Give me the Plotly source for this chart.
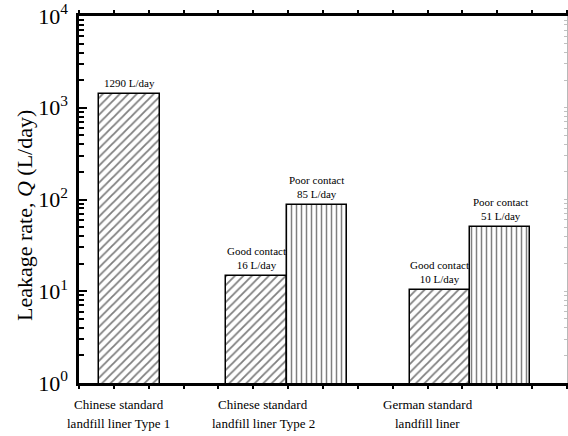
import math
import plotly.graph_objects as go

# ---- data ----
categories = ["Chinese standard<br>landfill liner Type 1",
              "Chinese standard<br>landfill liner Type 2",
              "German standard<br>landfill liner"]
# diagonal-hatched bars (Type 1 / good contact)
diag_values = [1420, 14.7, 10.2]
diag_labels = ["1290 L/day", "Good contact<br>16 L/day", "Good contact<br>10 L/day"]
# vertical-hatched bars (poor contact); Type 1 has none
vert_values = [None, 87, 50]
vert_labels = [None, "Poor contact<br>85 L/day", "Poor contact<br>51 L/day"]
ytick_vals = [1, 10, 100, 1000, 10000]
ytick_text = ["10<sup>0</sup>", "10<sup>1</sup>", "10<sup>2</sup>", "10<sup>3</sup>", "10<sup>4</sup>"]

# ---- layout geometry (axis units / pixels) ----
W, H = 568, 436
L, R, T, B = 79, 1, 16, 53
group_x = [1.449, 5.958, 11.216]
bar_w = 1.73
label_x = [1.147, 5.28, 10.01]
FONT = "Liberation Serif, Times New Roman, serif"

diag_x = [group_x[0]] + [g - bar_w / 2 for g in group_x[1:]]
vert_x = [None] + [g + bar_w / 2 for g in group_x[1:]]
minor_vals = [m * 10 ** d for d in range(4) for m in range(2, 10)]

fig = go.Figure()
fig.add_trace(go.Bar(
    x=diag_x, y=diag_values, width=bar_w,
    marker=dict(color="white",
                line=dict(color="black", width=1.5),
                pattern=dict(shape="/", size=6, solidity=0.3,
                             fgcolor="black", bgcolor="white")),
    showlegend=False, hoverinfo="skip"))
vx = [x for x, v in zip(vert_x, vert_values) if v is not None]
vv = [v for v in vert_values if v is not None]
fig.add_trace(go.Bar(
    x=vx, y=vv, width=bar_w,
    marker=dict(color="white",
                line=dict(color="black", width=1.5),
                pattern=dict(shape="|", size=5, solidity=0.3,
                             fgcolor="black", bgcolor="white")),
    showlegend=False, hoverinfo="skip"))
fig.add_trace(go.Scatter(x=[None], y=[None], yaxis="y2", showlegend=False, hoverinfo="skip"))
fig.add_trace(go.Scatter(x=[None], y=[None], yaxis="y3", showlegend=False, hoverinfo="skip"))

# bar value labels
for xs, vals, labs in [(diag_x, diag_values, diag_labels), (vert_x, vert_values, vert_labels)]:
    for x, v, t in zip(xs, vals, labs):
        if v is None:
            continue
        fig.add_annotation(x=x, y=math.log10(v), text=t, showarrow=False,
                           yanchor="bottom", yshift=3,
                           font=dict(family=FONT, size=11, color="black"))

# category labels (one annotation per line)
ph = H - T - B
for x, cat in zip(label_x, categories):
    for i, line in enumerate(cat.split("<br>")):
        ypix = 404 + 19 * i
        fig.add_annotation(x=x, y=(H - B - ypix) / ph, yref="paper", text=line,
                           showarrow=False, yanchor="middle",
                           font=dict(family=FONT, size=13, color="black"))

# y title
fig.add_annotation(x=(24 - L) / (W - L - R), xref="paper", y=(H - B - 216) / ph, yref="paper",
                   text="Leakage rate, <i>Q</i> (L/day)", textangle=-90, showarrow=False,
                   xanchor="center", yanchor="middle",
                   font=dict(family=FONT, size=22, color="black"))

fig.update_layout(
    width=W, height=H,
    margin=dict(l=L, r=R, t=T, b=B, pad=0),
    paper_bgcolor="white", plot_bgcolor="white",
    bargap=0, barmode="overlay",
    font=dict(family=FONT, color="black"),
    xaxis=dict(range=[0, 14], showgrid=False, zeroline=False,
               showline=True, linecolor="black", linewidth=2.5, mirror="ticks",
               ticks="outside", ticklen=3, tickwidth=1.5, tickcolor="black",
               dtick=1, tick0=0, showticklabels=False),
    yaxis=dict(type="log", range=[0, 4], showgrid=False, zeroline=False,
               showline=True, linecolor="black", linewidth=2.5,
               ticks="inside", ticklen=8, tickwidth=2, tickcolor="black",
               tickvals=ytick_vals, ticktext=ytick_text,
               tickfont=dict(family=FONT, size=22, color="black"),
               ticklabelstandoff=4),
    yaxis3=dict(type="log", range=[0, 4], overlaying="y", side="left", anchor="x",
                showgrid=False, zeroline=False, showline=False,
                ticks="inside", ticklen=5, tickwidth=1.5, tickcolor="black",
                tickvals=minor_vals, showticklabels=False),
    yaxis2=dict(type="log", range=[0, 4], overlaying="y", side="right", anchor="x",
                showgrid=False, zeroline=False, showline=True,
                linecolor="#b8b8b8", linewidth=1,
                ticks="inside", ticklen=3, tickwidth=1, tickcolor="#c0c0c0",
                tickvals=ytick_vals + minor_vals, showticklabels=False),
)

fig.write_html("out.html", config={"displayModeBar": False},
               post_script="document.body.style.margin='0';")
